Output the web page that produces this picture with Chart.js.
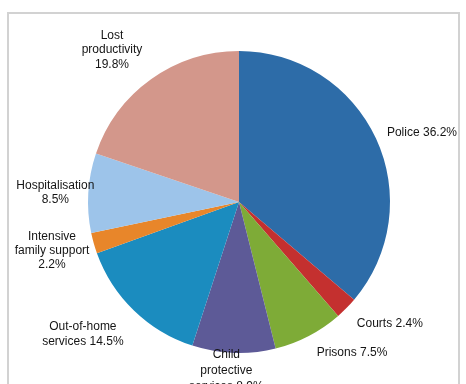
<!DOCTYPE html>
<html>
<head>
<meta charset="utf-8">
<script src="https://cdn.jsdelivr.net/npm/chart.js@4"></script>
<style>
  body { margin: 0; background: #fff; }
  #wrap { position: relative; width: 466px; height: 384px; }
  #frame {
    position: absolute; left: 7px; top: 12px; width: 453px; height: 400px;
    border: 2px solid #d2d2d2; box-sizing: border-box;
  }
  canvas { position: absolute; left: 0; top: 0; }
</style>
</head>
<body>
<div id="wrap">
  <div id="frame"></div>
  <canvas id="pie" width="466" height="384"></canvas>
</div>
<script>
// cost share by category, percent
const categories = ["Police", "Courts", "Prisons", "Child protective services",
  "Out-of-home services", "Intensive family support", "Hospitalisation", "Lost productivity"];
const shares = [36.2, 2.4, 7.5, 8.9, 14.5, 2.2, 8.5, 19.8];
// how each label breaks into lines
const labelLines = [
  ["Police 36.2%"],
  ["Courts 2.4%"],
  ["Prisons 7.5%"],
  ["Child", "protective", "services 8.9%"],
  ["Out-of-home", "services 14.5%"],
  ["Intensive", "family support", "2.2%"],
  ["Hospitalisation", "8.5%"],
  ["Lost", "productivity", "19.8%"]
];

const sliceColors = ["#2d6ca8", "#c4302f", "#7eab37", "#5d5a97",
  "#1b8cbf", "#e8862a", "#9dc4ea", "#d3978b"];

// label placement: distance from centre (px), angle nudge (deg), line height
const labelRadius = [165, 172, 172, 145, 176, 157, 145, 173];
const labelNudge = [1, -2, -5.5, 2, 2, 0, 0, -3];
const labelLineH = [14.5, 14.5, 14.5, 16, 14.5, 14, 14.5, 14.5];

const fontType = '"Liberation Sans", Arial, sans-serif';

const labelPlugin = {
  id: 'sliceLabels',
  afterDraw(chart) {
    const ctx = chart.ctx;
    const arcs = chart.getDatasetMeta(0).data;
    ctx.save();
    ctx.font = '12px ' + fontType;
    ctx.fillStyle = '#151515';
    ctx.textAlign = 'center';
    ctx.textBaseline = 'middle';
    arcs.forEach((arc, i) => {
      const mid = (arc.startAngle + arc.endAngle) / 2 + labelNudge[i] * Math.PI / 180;
      const dx = Math.cos(mid), dy = Math.sin(mid);
      const ax = arc.x + labelRadius[i] * dx;
      const ay = arc.y + labelRadius[i] * dy;
      const lines = labelLines[i];
      const lh = labelLineH[i];
      const w = Math.max(...lines.map(l => ctx.measureText(l).width));
      const h = lines.length * lh;
      const left = ax - w * (1 - dx) / 2;
      const top = ay - h * (1 - dy) / 2;
      lines.forEach((l, j) => {
        ctx.fillText(l, left + w / 2, top + lh * (j + 0.5));
      });
    });
    ctx.restore();
  }
};

new Chart(document.getElementById('pie'), {
  type: 'pie',
  data: {
    labels: categories,
    datasets: [{
      data: shares,
      backgroundColor: sliceColors,
      borderWidth: 0
    }]
  },
  options: {
    responsive: false,
    animation: false,
    layout: { padding: { left: 88, right: 76, top: 51, bottom: 31 } },
    plugins: {
      legend: { display: false },
      tooltip: { enabled: false }
    }
  },
  plugins: [labelPlugin]
});
</script>
</body>
</html>
